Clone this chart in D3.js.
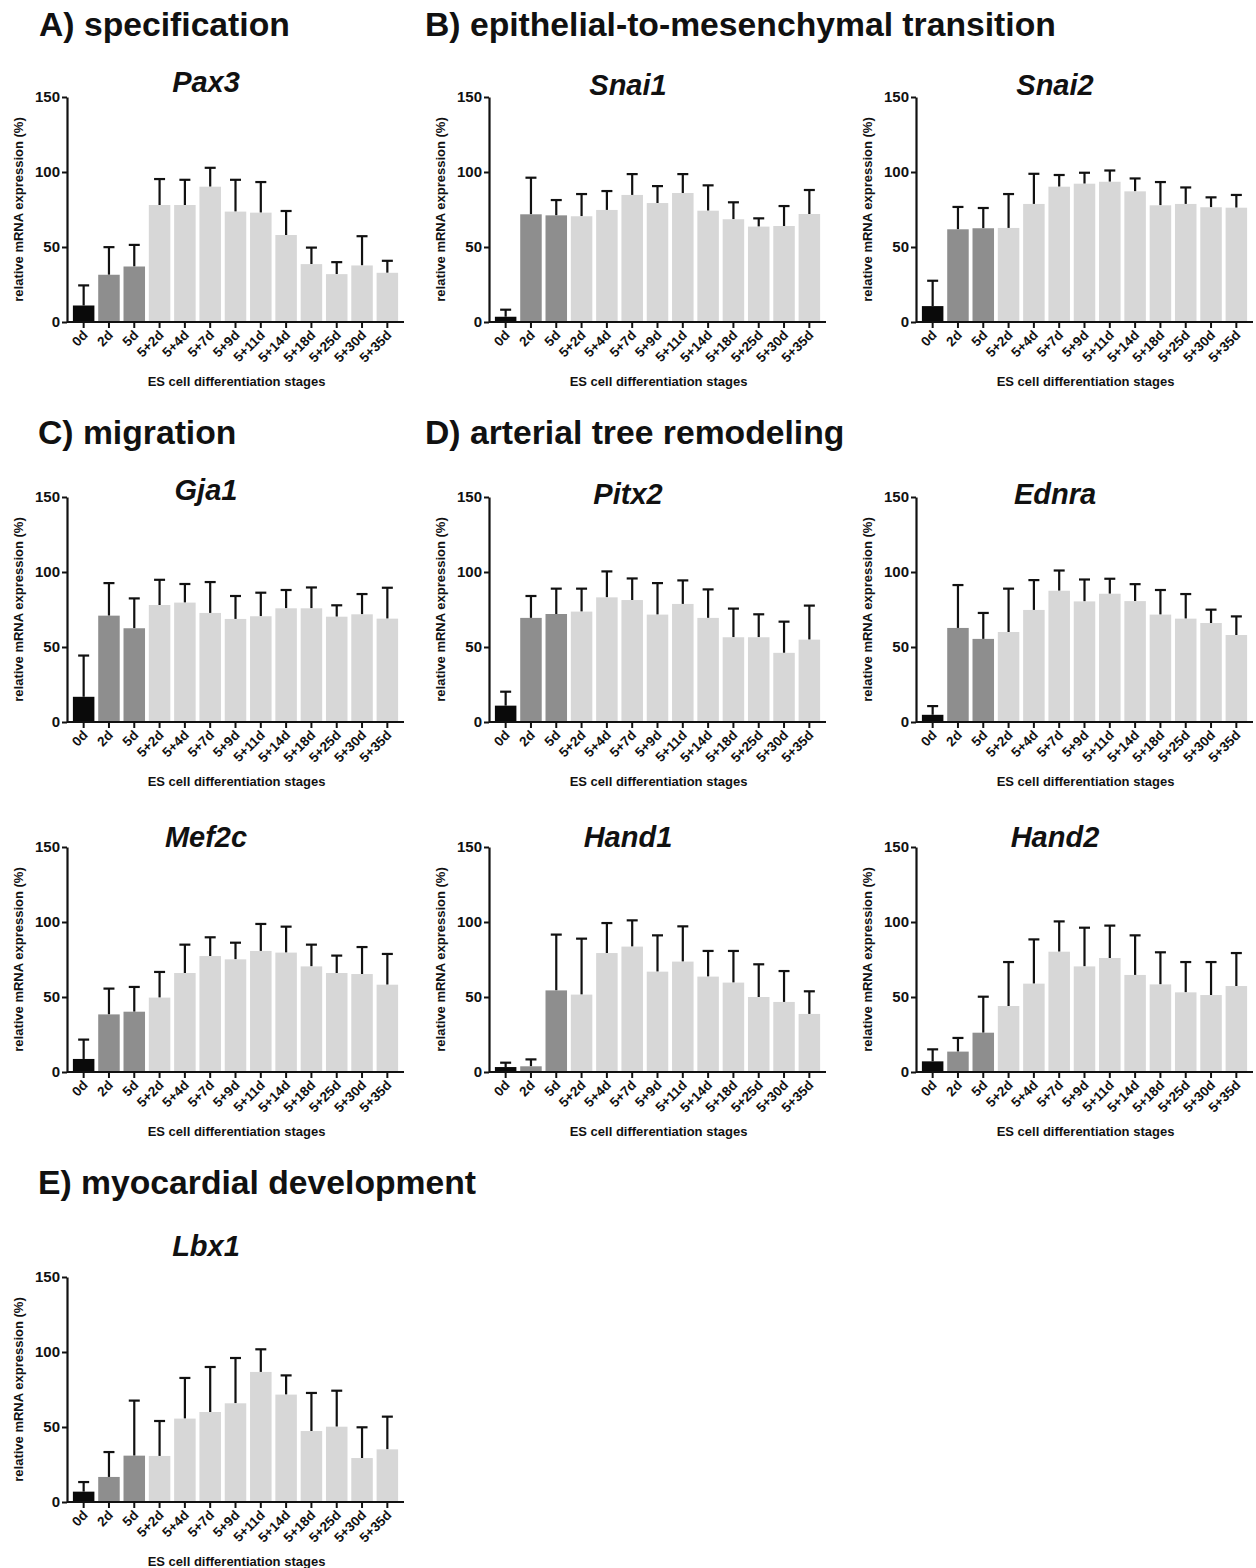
<!DOCTYPE html>
<html>
<head>
<meta charset="utf-8">
<script src="https://cdn.jsdelivr.net/npm/d3@7"></script>
<style>
  body { margin: 0; background: #fff; }
  svg { display: block; font-family: "Liberation Sans", Arial, Helvetica, sans-serif; }
</style>
</head>
<body>
<svg id="fig" width="1256" height="1568"></svg>
<script>
// stages on the x axis
var stages = ["0d", "2d", "5d", "5+2d", "5+4d", "5+7d", "5+9d", "5+11d", "5+14d", "5+18d", "5+25d", "5+30d", "5+35d"];
var stageGroup = ["es", "eb", "eb", "diff", "diff", "diff", "diff", "diff", "diff", "diff", "diff", "diff", "diff"];
var yTicks = [0, 50, 100, 150];

// mean and SD (% relative mRNA expression)
var pax3Mean = [11, 31.5, 37, 78, 78, 90.2, 73.6, 72.9, 58, 38.6, 31.9, 37.7, 32.8];
var pax3Sd = [13.4, 18.4, 14.4, 17.3, 16.8, 12.6, 21.2, 20.4, 16, 11, 8, 19.5, 8];
var snai1Mean = [3.5, 71.8, 71.1, 70.5, 74.7, 84.7, 79.3, 86, 74.2, 68.5, 63.6, 64, 72];
var snai1Sd = [4.7, 24.4, 10.2, 14.8, 12.6, 13.9, 11.3, 12.6, 16.9, 11.3, 5.5, 13.3, 16];
var snai2Mean = [10.6, 61.8, 62.5, 62.7, 78.7, 90.2, 92.2, 93.5, 87.1, 77.8, 78.7, 76.5, 76.2];
var snai2Sd = [16.9, 14.9, 13.5, 22.6, 20.1, 7.8, 7.3, 7.5, 8.6, 15.5, 11, 6.6, 8.5];
var gja1Mean = [16.8, 70.9, 62.5, 78, 79.6, 72.7, 68.7, 70.5, 75.8, 75.8, 70.2, 71.8, 68.9];
var gja1Sd = [27.5, 21.7, 19.9, 16.8, 12.4, 20.6, 15.3, 15.7, 12.2, 13.9, 7.6, 13.5, 20.6];
var pitx2Mean = [10.9, 69.4, 72, 73.6, 83.1, 81.3, 71.6, 78.7, 69.4, 56.5, 56.5, 46.1, 54.9];
var pitx2Sd = [9.3, 14.6, 16.9, 15.3, 17.3, 14.4, 21, 15.7, 19, 19.1, 15.3, 20.8, 22.7];
var ednraMean = [4.8, 62.7, 55.4, 60, 74.7, 87.5, 80.4, 85.5, 80.6, 71.6, 68.9, 66, 58];
var ednraSd = [5.8, 28.6, 17.3, 28.9, 19.9, 13.5, 14.6, 10, 11.3, 16.4, 16.4, 8.9, 12.4];
var mef2cMean = [8.7, 38.4, 40.2, 49.6, 66, 77.3, 75.1, 80.7, 79.6, 70.4, 66, 65.3, 58.2];
var mef2cSd = [12.9, 17.2, 16.5, 17.1, 18.9, 12.5, 11.1, 18, 17.3, 14.5, 11.6, 18, 20.5];
var hand1Mean = [3.3, 3.8, 54.4, 51.6, 79.3, 83.6, 66.9, 73.6, 63.6, 59.6, 50, 46.7, 38.7];
var hand1Sd = [2.9, 4.6, 37.2, 37.3, 20, 17.5, 24.2, 23.5, 17.1, 21.1, 21.8, 20.6, 15.1];
var hand2Mean = [7.1, 13.6, 26.2, 44, 58.9, 80.2, 70.4, 76, 64.7, 58.4, 53.1, 51.3, 57.3];
var hand2Sd = [8, 9.1, 24, 29.3, 29.5, 20.2, 25.8, 21.6, 26.4, 21.4, 20.2, 22, 22];
var lbx1Mean = [6.9, 16.7, 30.9, 30.7, 55.6, 60, 65.8, 86.7, 71.6, 47.3, 50.2, 29.3, 35.1];
var lbx1Sd = [6.4, 16.6, 36.7, 23.3, 27.1, 30, 30.2, 15.1, 12.8, 25.4, 24, 20.5, 21.8];

var sections = ["A) specification", "B) epithelial-to-mesenchymal transition", "C) migration",
  "D) arterial tree remodeling", "E) myocardial development"];

var groupColor = { es: "#0a0a0a", eb: "#8e8e8e", diff: "#d7d7d7" };

var svg = d3.select("#fig");

// section headings
var headPos = [[39, 36], [425, 36], [38, 444], [425, 444], [38, 1194]];
svg.selectAll("text.section")
  .data(sections)
  .enter()
  .append("text")
  .attr("class", "section")
  .attr("x", function (d, i) { return headPos[i][0]; })
  .attr("y", function (d, i) { return headPos[i][1]; })
  .attr("font-size", 33.7)
  .attr("font-weight", "bold")
  .attr("fill", "#111")
  .text(function (d) { return d; });

// panel placement: x0 = y-axis position, top = y of 150 tick, ty = title baseline
var panels = [
  { gene: "Pax3", mean: pax3Mean, sd: pax3Sd, x0: 67, top: 97, ty: 92 },
  { gene: "Snai1", mean: snai1Mean, sd: snai1Sd, x0: 489, top: 97, ty: 95 },
  { gene: "Snai2", mean: snai2Mean, sd: snai2Sd, x0: 916, top: 97, ty: 95 },
  { gene: "Gja1", mean: gja1Mean, sd: gja1Sd, x0: 67, top: 497, ty: 500 },
  { gene: "Pitx2", mean: pitx2Mean, sd: pitx2Sd, x0: 489, top: 497, ty: 504 },
  { gene: "Ednra", mean: ednraMean, sd: ednraSd, x0: 916, top: 497, ty: 504 },
  { gene: "Mef2c", mean: mef2cMean, sd: mef2cSd, x0: 67, top: 847, ty: 847 },
  { gene: "Hand1", mean: hand1Mean, sd: hand1Sd, x0: 489, top: 847, ty: 847 },
  { gene: "Hand2", mean: hand2Mean, sd: hand2Sd, x0: 916, top: 847, ty: 847 },
  { gene: "Lbx1", mean: lbx1Mean, sd: lbx1Sd, x0: 67, top: 1277, ty: 1256 }
];

var plotH = 225, plotW = 337;

panels.forEach(function (p) {
  var g = svg.append("g");
  var y = d3.scaleLinear().domain([0, 150]).range([p.top + plotH, p.top]);
  var x = d3.scaleBand()
    .domain(stages)
    .range([p.x0 + 4, p.x0 + 333])
    .paddingInner(0.15)
    .paddingOuter(0.075);
  var base = y(0);

  var rows = stages.map(function (s, i) {
    return { stage: s, mean: p.mean[i], sd: p.sd[i], group: stageGroup[i] };
  });

  // gene title
  g.append("text")
    .attr("x", p.x0 + 139)
    .attr("y", p.ty)
    .attr("text-anchor", "middle")
    .attr("font-size", 29)
    .attr("font-weight", "bold")
    .attr("font-style", "italic")
    .attr("fill", "#111")
    .text(p.gene);

  // error bars (upper only), drawn first so bars cover the lower end
  var err = g.append("g").attr("stroke", "#111").attr("stroke-width", 2.2);
  err.selectAll("line.stem")
    .data(rows)
    .enter()
    .append("line")
    .attr("x1", function (d) { return x(d.stage) + x.bandwidth() / 2; })
    .attr("x2", function (d) { return x(d.stage) + x.bandwidth() / 2; })
    .attr("y1", function (d) { return y(d.mean); })
    .attr("y2", function (d) { return y(d.mean + d.sd); });
  err.selectAll("line.cap")
    .data(rows)
    .enter()
    .append("line")
    .attr("x1", function (d) { return x(d.stage) + x.bandwidth() / 2 - 5.5; })
    .attr("x2", function (d) { return x(d.stage) + x.bandwidth() / 2 + 5.5; })
    .attr("y1", function (d) { return y(d.mean + d.sd); })
    .attr("y2", function (d) { return y(d.mean + d.sd); });

  // bars
  g.append("g")
    .selectAll("rect")
    .data(rows)
    .enter()
    .append("rect")
    .attr("x", function (d) { return x(d.stage); })
    .attr("width", x.bandwidth())
    .attr("y", function (d) { return y(d.mean); })
    .attr("height", function (d) { return base - y(d.mean); })
    .attr("fill", function (d) { return groupColor[d.group]; });

  // y axis
  var yAxis = g.append("g")
    .attr("transform", "translate(" + p.x0 + ",0)")
    .call(d3.axisLeft(y).tickValues(yTicks).tickSize(5).tickPadding(2).tickSizeOuter(0));
  yAxis.select(".domain").attr("stroke", "#111").attr("stroke-width", 2.2);
  yAxis.selectAll(".tick line").attr("stroke", "#111").attr("stroke-width", 2);
  yAxis.selectAll(".tick text")
    .attr("font-size", 15)
    .attr("font-weight", "bold")
    .attr("fill", "#111")
    .attr("font-family", "Liberation Sans, Arial, sans-serif");

  // x axis
  var xAxis = g.append("g")
    .attr("transform", "translate(0," + base + ")")
    .call(d3.axisBottom(x).tickSize(6).tickSizeOuter(0));
  xAxis.select(".domain")
    .attr("d", "M" + p.x0 + ",0H" + (p.x0 + plotW))
    .attr("stroke", "#111").attr("stroke-width", 2.2);
  xAxis.selectAll(".tick line").attr("stroke", "#111").attr("stroke-width", 2);
  xAxis.selectAll(".tick text")
    .attr("font-size", 13.5)
    .attr("font-weight", "bold")
    .attr("fill", "#111")
    .attr("font-family", "Liberation Sans, Arial, sans-serif")
    .attr("text-anchor", "end")
    .attr("y", 0)
    .attr("dy", 0)
    .attr("transform", "translate(5,14) rotate(-45)");

  // axis titles
  g.append("text")
    .attr("x", p.x0 + plotW / 2 + 1)
    .attr("y", base + 64)
    .attr("text-anchor", "middle")
    .attr("font-size", 13)
    .attr("font-weight", "bold")
    .attr("fill", "#111")
    .text("ES cell differentiation stages");

  g.append("text")
    .attr("transform", "translate(" + (p.x0 - 44) + "," + (p.top + plotH / 2) + ") rotate(-90)")
    .attr("text-anchor", "middle")
    .attr("font-size", 13)
    .attr("font-weight", "bold")
    .attr("fill", "#111")
    .text("relative mRNA expression (%)");
});
</script>
</body>
</html>
